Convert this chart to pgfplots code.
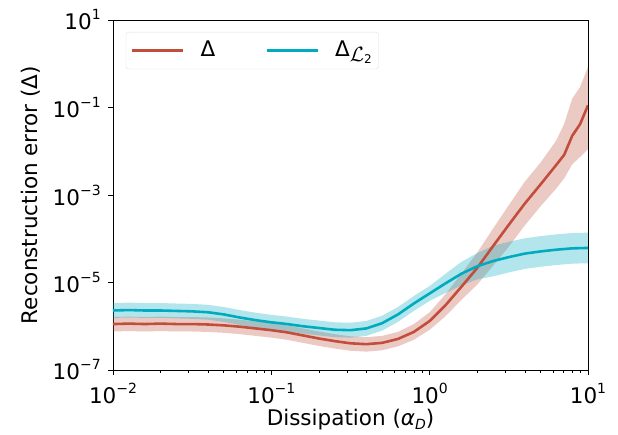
\documentclass[border=0pt]{standalone}
\usepackage{fontspec}
\setmainfont{DejaVu Sans}
\usepackage{pgfplots}
\pgfplotsset{compat=1.18}
\usepackage{pgfplotstable}
\usepgfplotslibrary{fillbetween}
\definecolor{cred}{RGB}{193,78,60}
\definecolor{ccyan}{RGB}{0,171,191}
\newcommand\bigfont{\fontsize{21.5bp}{25bp}\selectfont}
\newcommand\sups[1]{\raisebox{10bp}{\fontsize{14bp}{14bp}\selectfont #1}}
\newcommand\subs[1]{\raisebox{-4bp}{\fontsize{14bp}{14bp}\selectfont #1}}
\newcommand\tl[1]{10\sups{#1}}

\pgfplotstableread{
x       m         lo        hi
0.01    1.122e-6  7.586e-7  1.622e-6
0.01259 1.148e-6  7.762e-7  1.660e-6
0.01585 1.122e-6  7.586e-7  1.622e-6
0.01995 1.148e-6  7.762e-7  1.660e-6
0.02512 1.122e-6  7.586e-7  1.622e-6
0.03162 1.122e-6  7.586e-7  1.622e-6
0.03981 1.096e-6  7.413e-7  1.585e-6
0.05012 1.047e-6  7.079e-7  1.514e-6
0.06310 9.772e-7  6.607e-7  1.413e-6
0.07943 8.913e-7  6.026e-7  1.288e-6
0.1     8.128e-7  5.495e-7  1.175e-6
0.1259  7.244e-7  4.898e-7  1.047e-6
0.1585  6.166e-7  4.169e-7  8.913e-7
0.1995  5.248e-7  3.548e-7  7.586e-7
0.2512  4.571e-7  3.090e-7  6.607e-7
0.3162  4.074e-7  2.754e-7  5.888e-7
0.3981  3.890e-7  2.630e-7  5.623e-7
0.5012  4.169e-7  2.818e-7  6.026e-7
0.6310  5.129e-7  3.467e-7  7.413e-7
0.7943  7.413e-7  4.898e-7  1.122e-6
1.0     1.318e-6  8.318e-7  2.089e-6
1.259   3.020e-6  1.698e-6  5.370e-6
1.585   7.943e-6  3.981e-6  1.585e-5
1.995   2.138e-5  8.913e-6  4.786e-5
2.512   6.761e-5  2.399e-5  1.698e-4
3.162   2.089e-4  6.607e-5  5.888e-4
3.981   6.310e-4  1.995e-4  1.995e-3
5.012   1.738e-3  5.495e-4  5.495e-3
6.310   4.898e-3  1.413e-3  1.778e-2
7.079   8.318e-3  2.399e-3  4.266e-2
7.943   2.239e-2  5.012e-3  1.585e-1
8.913   4.169e-2  7.413e-3  2.951e-1
10.0    1.122e-1  1.122e-2  8.511e-1
}\tabred

\pgfplotstableread{
x       m         lo        hi
0.01    2.291e-6  1.549e-6  3.388e-6
0.01259 2.344e-6  1.585e-6  3.467e-6
0.01585 2.291e-6  1.549e-6  3.388e-6
0.01995 2.291e-6  1.549e-6  3.388e-6
0.02512 2.239e-6  1.514e-6  3.311e-6
0.03162 2.188e-6  1.479e-6  3.236e-6
0.03981 2.089e-6  1.413e-6  3.090e-6
0.05012 1.862e-6  1.259e-6  2.754e-6
0.06310 1.585e-6  1.072e-6  2.344e-6
0.07943 1.380e-6  9.333e-7  2.042e-6
0.1     1.230e-6  8.318e-7  1.820e-6
0.1259  1.122e-6  7.586e-7  1.660e-6
0.1585  1.000e-6  6.761e-7  1.479e-6
0.1995  9.120e-7  6.166e-7  1.349e-6
0.2512  8.318e-7  5.623e-7  1.230e-6
0.3162  8.128e-7  5.495e-7  1.202e-6
0.3981  8.913e-7  6.026e-7  1.318e-6
0.5012  1.175e-6  7.943e-7  1.738e-6
0.6310  1.862e-6  1.259e-6  2.754e-6
0.7943  3.311e-6  2.239e-6  4.898e-6
1.0     5.623e-6  3.802e-6  8.318e-6
1.259   9.550e-6  5.754e-6  1.585e-5
1.585   1.585e-5  8.511e-6  2.951e-5
1.995   2.344e-5  1.175e-5  4.677e-5
2.512   3.090e-5  1.380e-5  6.918e-5
3.162   3.802e-5  1.698e-5  8.511e-5
3.981   4.571e-5  2.042e-5  1.023e-4
5.012   5.129e-5  2.291e-5  1.148e-4
6.310   5.623e-5  2.512e-5  1.259e-4
7.943   6.026e-5  2.692e-5  1.349e-4
10.0    6.166e-5  2.754e-5  1.380e-4
}\tabcyan

\begin{document}
\bigfont
\begin{tikzpicture}
\begin{axis}[
  scale only axis,
  width=475bp, height=350bp,
  xmode=log, ymode=log,
  xmin=0.01, xmax=10, ymin=1e-7, ymax=10,
  axis line style={line width=0.9pt, black},
  tick pos=left,
  tick align=outside,
  major tick length=5bp,
  minor tick length=3bp,
  every tick/.style={black, line width=0.8pt},
  minor tick style={line width=0.6pt},
  xtick={0.01,0.1,1,10},
  xticklabels={\tl{−2},\tl{−1},\tl{0},\tl{1}},
  ytick={1e-7,1e-5,1e-3,1e-1,10},
  yticklabels={\tl{−7},\tl{−5},\tl{−3},\tl{−1},\tl{1}},
  yminorticks=false,
  xminorticks=true,
  ticklabel style={font=\bigfont},
  label style={font=\bigfont},
  xticklabel style={yshift=-1bp},
  xlabel={Dissipation ({\itshape α}\subs{\itshape D})},
  ylabel={Reconstruction error (Δ)},
  xlabel style={yshift=9bp},
  ylabel style={yshift=-2bp},
  legend columns=2,
  legend cell align=left,
  legend style={at={(0.027,0.966)}, anchor=north west,
    draw=black!12, rounded corners=3pt, inner xsep=5bp, inner ysep=7bp,
    font=\bigfont,
    /tikz/every odd column/.append style={column sep=14bp},
    /tikz/every even column/.append style={column sep=1.7cm}},
  legend image code/.code={\draw[#1] (0cm,0cm) -- (1.8cm,0cm);},
]
\addplot[name path=rhi, draw=none, forget plot] table[x=x, y=hi] {\tabred};
\addplot[name path=rlo, draw=none, forget plot] table[x=x, y=lo] {\tabred};
\addplot[fill=cred, fill opacity=0.3, draw=none, forget plot] fill between[of=rhi and rlo];
\addplot[name path=chi, draw=none, forget plot] table[x=x, y=hi] {\tabcyan};
\addplot[name path=clo, draw=none, forget plot] table[x=x, y=lo] {\tabcyan};
\addplot[fill=ccyan, fill opacity=0.3, draw=none, forget plot] fill between[of=chi and clo];
\addplot[cred, line width=2.6pt] table[x=x, y=m] {\tabred};
\addlegendentry{Δ}
\addplot[ccyan, line width=2.6pt] table[x=x, y=m] {\tabcyan};
\addlegendentry{Δ\raisebox{-5bp}{$\mathcal{L}$}\raisebox{-7bp}{\fontsize{12bp}{12bp}\selectfont 2}}
\end{axis}
\pgfresetboundingbox
\path[use as bounding box] ([xshift=-113bp,yshift=-65bp]current axis.south west) rectangle ([xshift=30bp,yshift=20bp]current axis.north east);
\end{tikzpicture}
\end{document}
